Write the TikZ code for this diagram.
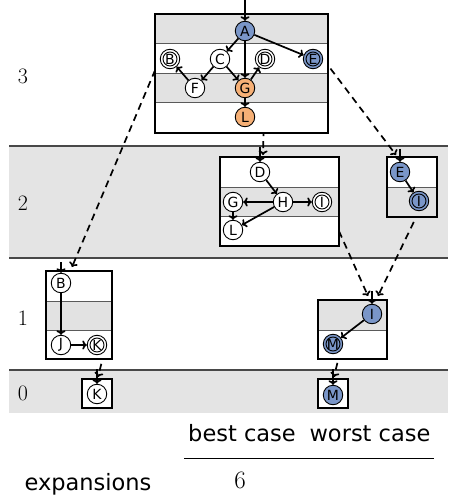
\documentclass[tikz,border=0pt]{standalone}
\usepackage{fontspec}
\newfontfamily\nodefont{DejaVu Sans}
\usetikzlibrary{arrows.meta}
\definecolor{nblue}{RGB}{122,150,200}
\definecolor{norange}{RGB}{246,176,118}
\definecolor{bandgray}{RGB}{228,228,228}
\definecolor{rowgray}{RGB}{226,226,226}
\definecolor{bandline}{RGB}{72,72,72}
\definecolor{rowline}{RGB}{90,90,90}
\pgfdeclarelayer{bands}
\pgfdeclarelayer{links}
\pgfdeclarelayer{boxes}
\pgfsetlayers{bands,links,boxes,main}

\begin{document}
\begin{tikzpicture}[x=1pt,y=-1pt,
  st/.style={circle, draw, line width=0.9pt, minimum size=19.5pt, inner sep=0pt,
    fill=white, font=\nodefont\fontsize{14}{14}\selectfont},
  acc/.style={path picture={\draw[line width=0.9pt]
    (path picture bounding box.center) circle (7pt);}},
  blu/.style={fill=nblue},
  org/.style={fill=norange},
  tr/.style={line width=1.7pt, -{To[length=4.5pt,width=9pt]}},
  link/.style={line width=1.7pt, dash pattern=on 7pt off 5pt, -{To[length=4.5pt,width=9pt]}},
  divider/.style={line width=1pt, draw=rowline},
  boxline/.style={line width=1.1pt, draw=black},
  lvl/.style={font=\fontsize{22}{22}\selectfont},
  tab/.style={font=\nodefont\fontsize{22.5}{24}\selectfont, anchor=base, inner sep=0pt}
]
\useasboundingbox (0,0) rectangle (448,497);

% level bands
\begin{pgfonlayer}{bands}
  \fill[bandgray] (9,146) rectangle (448,258);
  \fill[bandgray] (9,370) rectangle (448,413);
  \draw[line width=1.5pt, bandline] (9,146) -- (448,146);
  \draw[line width=1.5pt, bandline] (9,258) -- (448,258);
  \draw[line width=1.5pt, bandline] (9,370) -- (448,370);
\end{pgfonlayer}

\node[lvl] (l3) at (23,76) {3};
\node[lvl] (l2) at (23,203) {2};
\node[lvl] (l1) at (23,318) {1};
\node[lvl] (l0) at (23,393) {0};

% boxes, one row per depth
\begin{pgfonlayer}{boxes}
  % level 3
  \fill[white] (155,14) rectangle (328,133);
  \fill[rowgray] (155,14) rectangle (328,44);
  \fill[rowgray] (155,74) rectangle (328,103);
  \draw[divider] (155,44) -- (328,44) (155,74) -- (328,74) (155,103) -- (328,103);
  \draw[boxline] (155,14) rectangle (328,133);
  % level 2, left
  \fill[white] (220,157) rectangle (339,246);
  \fill[rowgray] (220,187) rectangle (339,216);
  \draw[divider] (220,187) -- (339,187) (220,216) -- (339,216);
  \draw[boxline] (220,157) rectangle (339,246);
  % level 2, right
  \fill[white] (387,157) rectangle (437,217);
  \fill[rowgray] (387,187) rectangle (437,217);
  \draw[divider] (387,187) -- (437,187);
  \draw[boxline] (387,157) rectangle (437,217);
  % level 1, left
  \fill[white] (46,271) rectangle (112,359);
  \fill[rowgray] (46,301) rectangle (112,330);
  \draw[divider] (46,301) -- (112,301) (46,330) -- (112,330);
  \draw[boxline] (46,271) rectangle (112,359);
  % level 1, right
  \fill[white] (318,300) rectangle (387,359);
  \fill[rowgray] (318,300) rectangle (387,330);
  \draw[divider] (318,330) -- (387,330);
  \draw[boxline] (318,300) rectangle (387,359);
  % level 0
  \fill[white] (82,379) rectangle (112,408);
  \draw[boxline] (82,379) rectangle (112,408);
  \fill[white] (318,379) rectangle (348,408);
  \draw[boxline] (318,379) rectangle (348,408);
\end{pgfonlayer}

% level 3 graph
\node[st, blu] (A3) at (245,31) {A};
\node[st, acc] (B3) at (170,59) {B};
\node[st] (C3) at (220,59) {C};
\node[st, acc] (D3) at (265,59) {D};
\node[st, blu, acc] (E3) at (313,59) {E};
\node[st] (F3) at (195,88) {F};
\node[st, org] (G3) at (245,88) {G};
\node[st, org] (L3) at (245,117) {L};
\coordinate (sA) at (245,-2);
\draw[tr] (sA) -- (A3);
\draw[tr] (A3) -- (C3);
\draw[tr] (A3) -- (G3);
\draw[tr] (A3) -- (E3);
\draw[tr] (C3) -- (F3);
\draw[tr] (C3) -- (G3);
\draw[tr] (F3) -- (B3);
\draw[tr] (G3) -- (D3);
\draw[tr] (G3) -- (L3);

% level 2 graphs
\node[st] (D2) at (260,172) {D};
\node[st] (G2) at (233,202) {G};
\node[st] (H2) at (283,202) {H};
\node[st, acc] (I2) at (322,202) {I};
\node[st] (L2) at (233,230) {L};
\coordinate (sD2) at (260,147);
\draw[tr] (sD2) -- (D2);
\draw[tr] (D2) -- (H2);
\draw[tr] (H2) -- (G2);
\draw[tr] (H2) -- (I2);
\draw[tr] (H2) -- (L2);
\draw[tr] (G2) -- (L2);

\node[st, blu] (E2) at (400,172) {E};
\node[st, blu, acc] (J2) at (419,201) {I};
\coordinate (sE2) at (400,149);
\draw[tr] (sE2) -- (E2);
\draw[tr] (E2) -- (J2);

% level 1 graphs
\node[st] (B1) at (61,283) {B};
\node[st] (J1) at (61,345) {J};
\node[st, acc] (K1) at (97,345) {K};
\coordinate (sB1) at (61,262);
\draw[tr] (sB1) -- (B1);
\draw[tr] (B1) -- (J1);
\draw[tr] (J1) -- (K1);

\node[st, blu] (I1) at (372,314) {I};
\node[st, blu, acc] (M1) at (333,344) {M};
\coordinate (sI1) at (372,291);
\draw[tr] (sI1) -- (I1);
\draw[tr] (I1) -- (M1);

% level 0 graphs
\node[st] (K0) at (97,394) {K};
\node[st, blu] (M0) at (333,395) {M};
\coordinate (sK0) at (97,369);
\coordinate (sM0) at (333,369);
\draw[tr] (sK0) -- (K0);
\draw[tr] (sM0) -- (M0);

% refinement links between levels
\coordinate (tB1) at (72,267);
\coordinate (tD2) at (263,155);
\coordinate (tE2) at (396,155);
\coordinate (tI1a) at (368,296);
\coordinate (tI1b) at (378,296);
\coordinate (tK0) at (98,377);
\coordinate (tM0) at (334,377);
\begin{pgfonlayer}{links}
  \draw[link] (B3.west) -- (tB1);
  \draw[link] (D3.south) -- (tD2);
  \draw[link] (E3.east) -- (tE2);
  \draw[link] (I2.south east) -- (tI1a);
  \draw[link] (J2.south) -- (tI1b);
  \draw[link] (K1.south east) -- (tK0);
  \draw[link] (M1.south east) -- (tM0);
\end{pgfonlayer}

% expansion count
\node[tab] (best) at (242,441) {best case};
\node[tab] (worst) at (370,441) {worst case};
\draw[line width=0.8pt] (184,458) -- (434,458);
\node[tab] (exp) at (88,490) {expansions};
\node[anchor=base, inner sep=0pt, font=\fontsize{25}{25}\selectfont] (six) at (240,488) {6};
\end{tikzpicture}
\end{document}
